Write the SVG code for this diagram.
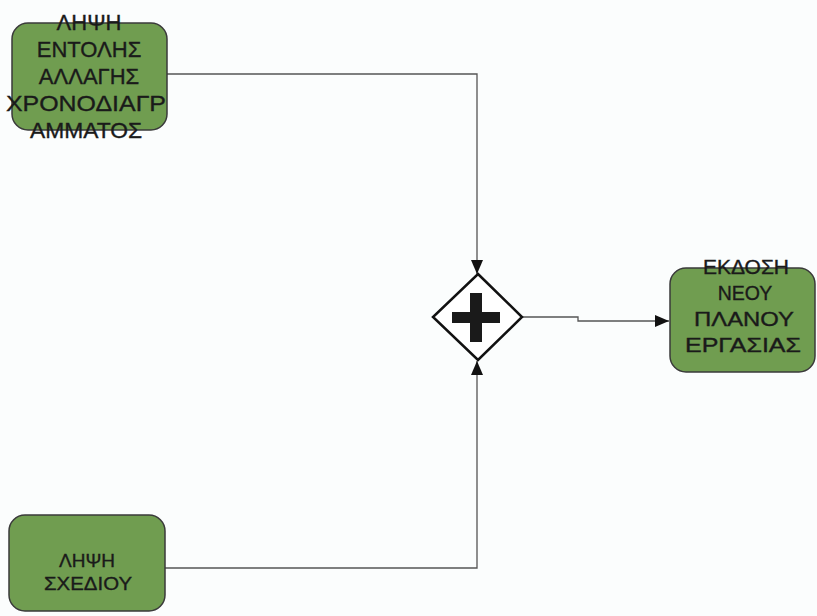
<svg xmlns="http://www.w3.org/2000/svg" width="817" height="616" viewBox="0 0 817 616">
<defs>
<style>
.box{fill:#709d50;stroke:#3a3a3a;stroke-width:1.5}
.lbl{font-family:"Liberation Sans",Arial,sans-serif;fill:#1a1a1a;stroke:#1a1a1a;stroke-width:0.35;text-anchor:middle}
.con{fill:none;stroke:#555;stroke-width:1.3}
</style>
<marker id="arr" viewBox="0 0 14 12" refX="14" refY="6" markerWidth="14" markerHeight="12" markerUnits="userSpaceOnUse" orient="auto">
<path d="M0,0 L14,6 L0,12 Z" fill="#111"/>
</marker>
</defs>
<rect width="817" height="616" fill="#fbfdfd"/>
<g id="connectors">
<path class="con" d="M167,74 H477 V274" marker-end="url(#arr)"/>
<path class="con" d="M165,568 H477 V361" marker-end="url(#arr)"/>
<path class="con" d="M523,317 H578 V321 H669" marker-end="url(#arr)"/>
</g>
<g id="node1">
<rect class="box" x="12" y="23" width="155" height="107" rx="16"/>
<text class="lbl" font-size="22"><tspan x="89" y="30">ΛΗΨΗ</tspan><tspan x="89" y="57">ΕΝΤΟΛΗΣ</tspan><tspan x="89" y="84">ΑΛΛΑΓΗΣ</tspan></text>
<text class="lbl" font-size="22" x="86" y="111" textLength="160" lengthAdjust="spacingAndGlyphs">ΧΡΟΝΟΔΙΑΓΡ</text>
<text class="lbl" font-size="22" x="86" y="138" textLength="112" lengthAdjust="spacingAndGlyphs">ΑΜΜΑΤΟΣ</text>
</g>
<g id="node2">
<rect class="box" x="9" y="515" width="156" height="96" rx="16"/>
<text class="lbl" font-size="19" x="87" y="567">ΛΗΨΗ</text>
<text class="lbl" font-size="19" x="88" y="590" textLength="88" lengthAdjust="spacingAndGlyphs">ΣΧΕΔΙΟΥ</text>
</g>
<g id="gateway">
<path d="M478,274 L522,317 L478,360 L433,317 Z" fill="#fff" stroke="#111" stroke-width="2.5"/>
<path d="M470,293 H482 V312 H500 V323 H482 V342 H470 V323 H452 V312 H470 Z" fill="#1a1a1a"/>
</g>
<g id="node3">
<rect class="box" x="670" y="268" width="145" height="104" rx="16"/>
<text class="lbl" font-size="19.5" x="746" y="274" textLength="86" lengthAdjust="spacingAndGlyphs">ΕΚΔΟΣΗ</text>
<text class="lbl" font-size="19.5" x="745" y="300">ΝΕΟΥ</text>
<text class="lbl" font-size="19.5" x="744" y="326" textLength="100" lengthAdjust="spacingAndGlyphs">ΠΛΑΝΟΥ</text>
<text class="lbl" font-size="19.5" x="743" y="352" textLength="116" lengthAdjust="spacingAndGlyphs">ΕΡΓΑΣΙΑΣ</text>
</g>
</svg>
